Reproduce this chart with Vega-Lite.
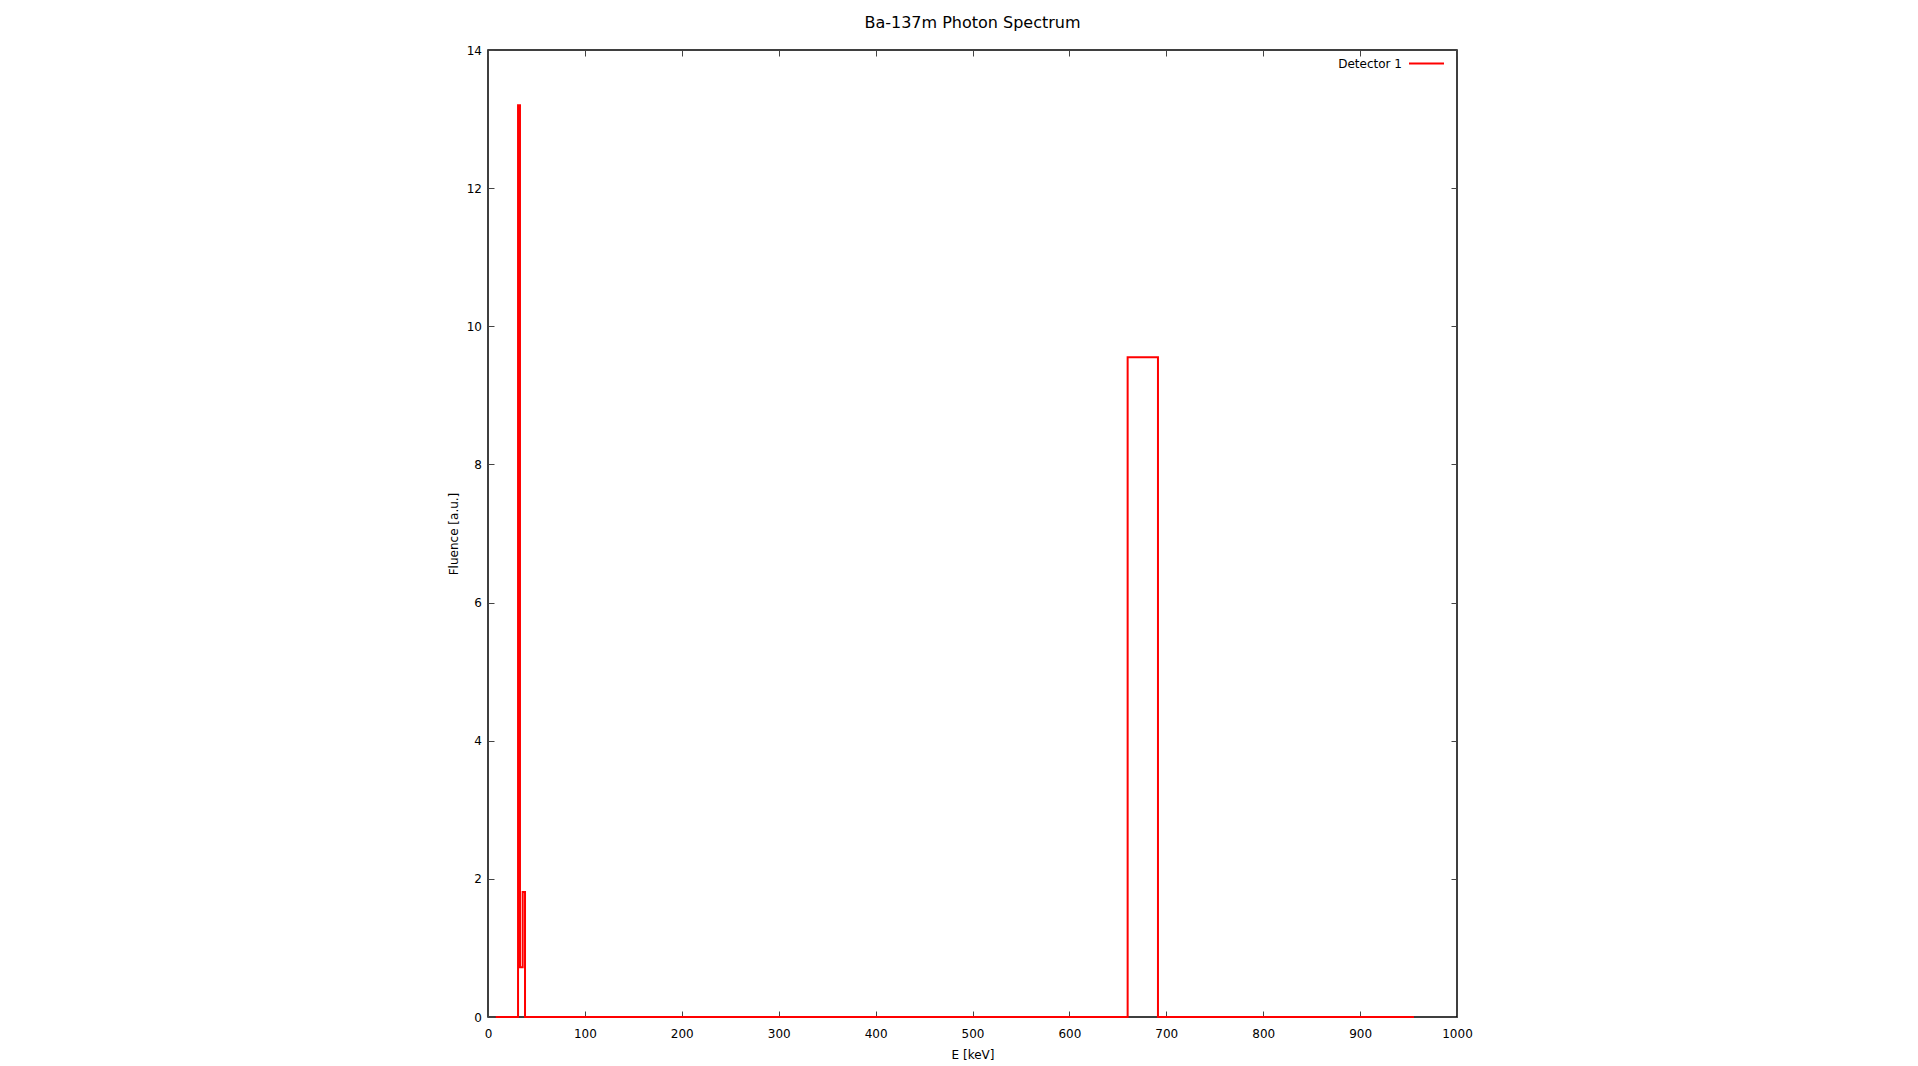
{
  "$schema": "https://vega.github.io/schema/vega-lite/v6.json",
  "width": 969,
  "height": 967,
  "autosize": {"type": "none"},
  "padding": {"left": 488, "top": 50, "right": 461, "bottom": 49},
  "background": "white",
  "title": {"text": "Ba-137m Photon Spectrum", "fontSize": 16, "font": "DejaVu Sans", "fontWeight": "normal", "color": "black", "offset": 13},
  "config": {
    "font": "DejaVu Sans",
    "view": {"stroke": "black", "strokeWidth": 1.5},
    "axis": {
      "domain": false, "grid": false, "tickSize": -6, "tickColor": "#444", "tickWidth": 1, "labelFlush": false,
      "labelFont": "DejaVu Sans", "labelFontSize": 12, "labelColor": "black",
      "titleFont": "DejaVu Sans", "titleFontSize": 12, "titleFontWeight": "normal", "titleColor": "black"
    }
  },
  "data": {"values": [
    {"energy": 8, "fluence": 0},
    {"energy": 31, "fluence": 13.2},
    {"energy": 33, "fluence": 0.72},
    {"energy": 35.8, "fluence": 1.81},
    {"energy": 38.2, "fluence": 0},
    {"energy": 660.1, "fluence": 9.55},
    {"energy": 691.4, "fluence": 0},
    {"energy": 955.6, "fluence": 0}
  ]},
  "layer": [
    {
      "mark": {"type": "line", "interpolate": "step-after", "strokeWidth": 2},
      "encoding": {
        "x": {"field": "energy", "type": "quantitative", "scale": {"domain": [0, 1000], "nice": false},
              "axis": {"orient": "bottom", "title": "E [keV]", "format": "d", "values": [0,100,200,300,400,500,600,700,800,900,1000], "labelPadding": 17, "titlePadding": 10}},
        "y": {"field": "fluence", "type": "quantitative", "scale": {"domain": [0, 14], "nice": false},
              "axis": {"orient": "left", "title": "Fluence [a.u.]", "format": "d", "values": [0,2,4,6,8,10,12,14], "labelPadding": 12.5, "titlePadding": 6}},
        "color": {"datum": "Detector 1", "type": "nominal", "scale": {"range": ["#ff0000"]},
                  "legend": {"title": null, "orient": "none", "legendX": 920, "legendY": -5, "padding": 0,
                             "symbolType": "stroke", "symbolSize": 1225, "symbolStrokeWidth": 2, "symbolStrokeColor": "#ff0000",
                             "labelAlign": "right", "labelOffset": -43, "labelFontSize": 12, "labelFont": "DejaVu Sans", "labelColor": "black"}}
      }
    },
    {
      "mark": {"type": "point", "opacity": 0},
      "encoding": {
        "x": {"field": "energy", "type": "quantitative",
              "axis": {"orient": "top", "title": null, "labels": false, "values": [0,100,200,300,400,500,600,700,800,900,1000]}},
        "y": {"field": "fluence", "type": "quantitative",
              "axis": {"orient": "right", "title": null, "labels": false, "values": [0,2,4,6,8,10,12,14]}}
      }
    }
  ],
  "resolve": {"axis": {"x": "independent", "y": "independent"}}
}
